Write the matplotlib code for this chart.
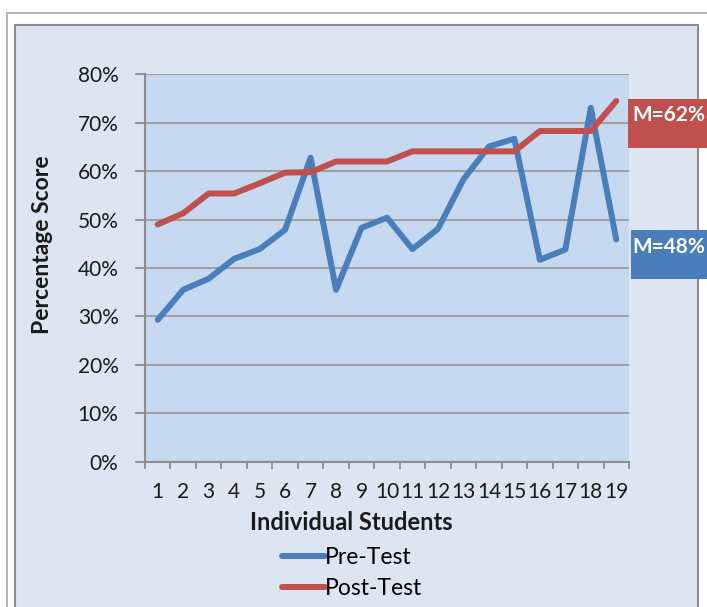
import numpy as np
import matplotlib
matplotlib.use("Agg")
import matplotlib.pyplot as plt
from matplotlib.patches import Rectangle
from matplotlib.ticker import PercentFormatter, FixedLocator

plt.rcParams['font.family'] = ['Lato', 'DejaVu Sans']

# data
students = list(range(1, 20))
pre_test = [0.293, 0.355, 0.378, 0.419, 0.439, 0.479, 0.628, 0.355, 0.483, 0.504,
            0.439, 0.481, 0.583, 0.651, 0.667, 0.417, 0.438, 0.731, 0.459]
post_test = [0.490, 0.513, 0.554, 0.554, 0.575, 0.597, 0.598, 0.620, 0.620, 0.620,
             0.641, 0.641, 0.641, 0.641, 0.641, 0.683, 0.683, 0.683, 0.745]
pre_mean_label = "M=48%"
post_mean_label = "M=62%"

W, H = 707, 607
fig = plt.figure(figsize=(W / 100, H / 100), dpi=100)
fig.patch.set_facecolor('white')

def px(x0, y0, x1, y1):
    # pixel box (top-left origin) -> figure fraction rect
    return (x0 / W, 1 - y1 / H, (x1 - x0) / W, (y1 - y0) / H)

# outer frame and chart area (behind the axes)
x, y, w, h = px(7, 13, 720, 620)
fig.patches.append(Rectangle((x, y), w, h, transform=fig.transFigure,
                             facecolor='white', edgecolor='#a6a6a6', lw=1.2, zorder=-3))
x, y, w, h = px(15, 25, 698, 620)
fig.patches.append(Rectangle((x, y), w, h, transform=fig.transFigure,
                             facecolor='#dce6f2', edgecolor='#8c8c8c', lw=1.5, zorder=-2))

ax = fig.add_axes(px(145, 74.4, 629, 461.6))
ax.set_facecolor('#c6d9f0')

blue = '#4a7ebb'
red = '#c0504d'
ax.plot(students, pre_test, color=blue, lw=4.3, solid_joinstyle='round',
        solid_capstyle='round', label='Pre-Test', zorder=3)
ax.plot(students, post_test, color=red, lw=4.3, solid_joinstyle='round',
        solid_capstyle='round', label='Post-Test', zorder=3)

ax.set_xlim(0.5, 19.5)
ax.set_ylim(0, 0.8)
ax.set_yticks(np.arange(0, 0.81, 0.1))
ax.yaxis.set_major_formatter(PercentFormatter(1.0, decimals=0))
ax.yaxis.grid(True, color='#a0a0a0', lw=1.5)
ax.set_axisbelow(True)

# category axis: tick marks between categories, labels at centres
ax.xaxis.set_major_locator(FixedLocator(np.arange(0.5, 19.6, 1)))
ax.xaxis.set_minor_locator(FixedLocator(students))
ax.set_xticklabels([])
ax.set_xticklabels([str(s) for s in students], minor=True)
ax.tick_params(axis='x', which='major', length=5, width=1.3, color='#8c8c8c')
ax.tick_params(axis='x', which='minor', length=0, pad=15, labelsize=15, labelcolor='#1a1a1a')
ax.tick_params(axis='y', length=7, width=1.3, color='#8c8c8c', pad=12,
               labelsize=15, labelcolor='#1a1a1a')

for s in ['top', 'right']:
    ax.spines[s].set_visible(False)
for s in ['left', 'bottom']:
    ax.spines[s].set_color('#8c8c8c')
    ax.spines[s].set_linewidth(1.5)

fig.text(351 / W, 1 - 522 / H, 'Individual Students', ha='center', va='center',
         fontsize=17, fontweight='bold', color='#1a1a1a')
fig.text(43 / W, 1 - 245 / H, 'Percentage Score', ha='center', va='center',
         rotation=90, fontsize=16.5, fontweight='bold', color='#1a1a1a')

# mean label boxes
for (y0, y1, x0, col, txt, ty) in [(99, 148, 628, red, post_mean_label, 115),
                                  (230, 279, 631, blue, pre_mean_label, 247)]:
    x, y, w, h = px(x0, y0, 720, y1)
    fig.patches.append(Rectangle((x, y), w, h, transform=fig.transFigure,
                                 facecolor=col, edgecolor='none', zorder=5))
    fig.text(632 / W, 1 - ty / H, txt, ha='left', va='center', fontsize=15,
             fontweight='bold', color='white', zorder=6)

# legend
fig.legend(loc='center', bbox_to_anchor=(352 / W, 1 - 573 / H), frameon=False,
           fontsize=16.5, handlelength=1.9, handletextpad=0.0, labelspacing=0.4,
           borderaxespad=0, borderpad=0)

fig.savefig('out.png', dpi=100)
